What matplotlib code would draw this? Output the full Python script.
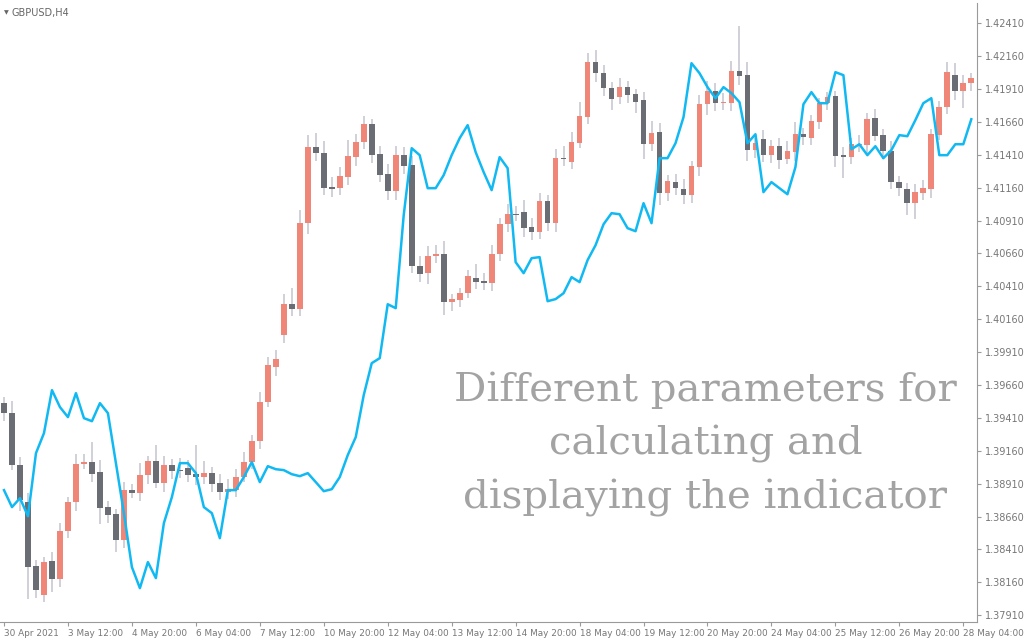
import matplotlib
matplotlib.use("Agg")
import matplotlib.pyplot as plt
import numpy as np

# GBPUSD H4 candles
opens = [1.39522, 1.39446, 1.39051, 1.38770, 1.38283, 1.38063, 1.38321, 1.38184, 1.38549, 1.38770,
         1.39058, 1.39074, 1.38998, 1.38732, 1.38678, 1.38481, 1.38861, 1.38838, 1.38975, 1.39081,
         1.38914, 1.39051, 1.39013, 1.39028, 1.38982, 1.38960, 1.38990, 1.38914, 1.38846, 1.38861,
         1.38960, 1.39074, 1.39233, 1.39530, 1.39796, 1.40039, 1.40274, 1.40236, 1.40890, 1.41468,
         1.41422, 1.41164, 1.41156, 1.41240, 1.41392, 1.41506, 1.41642, 1.41414, 1.41262, 1.41133,
         1.41407, 1.41331, 1.40563, 1.40510, 1.40639, 1.40654, 1.40290, 1.40305, 1.40358, 1.40472,
         1.40449, 1.40434, 1.40654, 1.40882, 1.40958, 1.40973, 1.40860, 1.40822, 1.41057, 1.40890,
         1.41384, 1.41354, 1.41498, 1.41696, 1.42114, 1.42030, 1.41916, 1.41848, 1.41924, 1.41870,
         1.41825, 1.41490, 1.41582, 1.41118, 1.41202, 1.41148, 1.41103, 1.41316, 1.41794, 1.41893,
         1.41802, 1.41802, 1.42045, 1.42015, 1.41445, 1.41528, 1.41407, 1.41475, 1.41376, 1.41430,
         1.41566, 1.41536, 1.41658, 1.41802, 1.41855, 1.41407, 1.41392, 1.41483, 1.41483, 1.41688,
         1.41559, 1.41437, 1.41202, 1.41148, 1.41042, 1.41118, 1.41148, 1.41559, 1.41772, 1.42015,
         1.41893, 1.41954]
closes = [1.39446, 1.39051, 1.38785, 1.38276, 1.38101, 1.38314, 1.38184, 1.38549, 1.38770, 1.39058,
          1.39074, 1.38982, 1.38724, 1.38671, 1.38481, 1.38861, 1.38838, 1.38975, 1.39081, 1.38914,
          1.39051, 1.39005, 1.39010, 1.38975, 1.38960, 1.38990, 1.38906, 1.38846, 1.38868, 1.38960,
          1.39074, 1.39233, 1.39530, 1.39811, 1.39856, 1.40274, 1.40236, 1.40890, 1.41468, 1.41422,
          1.41156, 1.41148, 1.41247, 1.41399, 1.41506, 1.41642, 1.41407, 1.41255, 1.41133, 1.41407,
          1.41323, 1.40563, 1.40502, 1.40639, 1.40654, 1.40290, 1.40313, 1.40358, 1.40487, 1.40442,
          1.40434, 1.40654, 1.40882, 1.40958, 1.40955, 1.40852, 1.40822, 1.41057, 1.40890, 1.41384,
          1.41376, 1.41506, 1.41703, 1.42114, 1.42030, 1.41916, 1.41832, 1.41924, 1.41863, 1.41810,
          1.41490, 1.41574, 1.41118, 1.41209, 1.41156, 1.41103, 1.41323, 1.41794, 1.41893, 1.41802,
          1.41810, 1.42045, 1.42007, 1.41445, 1.41498, 1.41407, 1.41475, 1.41369, 1.41437, 1.41566,
          1.41544, 1.41665, 1.41802, 1.41848, 1.41399, 1.41392, 1.41490, 1.41490, 1.41680, 1.41551,
          1.41437, 1.41202, 1.41156, 1.41042, 1.41126, 1.41156, 1.41566, 1.41772, 1.42038, 1.41893,
          1.41954, 1.41992]
# wick lengths above / below the body, in pips
wick_up = [5, 9, 6, 7, 5, 4, 7, 6, 4, 8, 6, 15, 9, 5, 4, 6, 5, 9, 4, 12,
           7, 5, 9, 6, 22, 9, 5, 7, 8, 6, 8, 5, 8, 6, 7, 8, 12, 10, 9, 11,
           9, 8, 7, 12, 6, 6, 4, 6, 8, 7, 6, 7, 8, 8, 7, 10, 4, 4, 5, 11,
           6, 7, 5, 8, 6, 9, 7, 6, 5, 7, 9, 8, 11, 7, 9, 6, 5, 7, 5, 4,
           6, 9, 7, 5, 6, 8, 4, 7, 8, 6, 7, 8, 34, 10, 4, 7, 5, 6, 8, 9,
           5, 5, 4, 4, 4, 6, 5, 7, 5, 7, 5, 8, 5, 5, 6, 6, 4, 5, 8, 9,
           6, 4]
wick_dn = [6, 4, 8, 24, 6, 5, 10, 6, 5, 7, 4, 6, 12, 6, 9, 6, 4, 6, 7, 4,
           7, 6, 6, 5, 6, 5, 6, 6, 5, 5, 4, 5, 6, 4, 7, 6, 5, 5, 8, 6,
           5, 6, 5, 6, 7, 5, 6, 5, 7, 7, 6, 5, 6, 8, 5, 10, 7, 5, 4, 5,
           5, 6, 5, 6, 5, 7, 6, 5, 6, 7, 5, 5, 4, 5, 7, 6, 8, 5, 6, 8,
           11, 5, 9, 6, 5, 7, 6, 7, 8, 6, 5, 6, 7, 8, 6, 5, 6, 7, 4, 7,
           6, 5, 5, 5, 8, 16, 5, 5, 6, 4, 6, 5, 6, 9, 12, 5, 7, 4, 5, 7,
           13, 6]
indicator = [1.38861, 1.38732, 1.38800, 1.38663, 1.39142, 1.39294, 1.39621, 1.39492, 1.39416, 1.39598,
             1.39408, 1.39385, 1.39522, 1.39446, 1.39066, 1.38686, 1.38276, 1.38116, 1.38314, 1.38192,
             1.38610, 1.38808, 1.39066, 1.39066, 1.38990, 1.38732, 1.38686, 1.38496, 1.38861, 1.38861,
             1.38960, 1.39074, 1.38922, 1.39043, 1.39020, 1.39013, 1.38982, 1.38967, 1.38990, 1.38922,
             1.38853, 1.38868, 1.38960, 1.39127, 1.39264, 1.39583, 1.39826, 1.39864, 1.40274, 1.40244,
             1.40951, 1.41460, 1.41407, 1.41156, 1.41156, 1.41255, 1.41407, 1.41536, 1.41635, 1.41430,
             1.41278, 1.41141, 1.41392, 1.41308, 1.40594, 1.40510, 1.40624, 1.40632, 1.40297, 1.40313,
             1.40358, 1.40480, 1.40442, 1.40609, 1.40723, 1.40882, 1.40966, 1.40958, 1.40852, 1.40829,
             1.41042, 1.40890, 1.41384, 1.41384, 1.41498, 1.41696, 1.42106, 1.42030, 1.41924, 1.41840,
             1.41924, 1.41878, 1.41810, 1.41498, 1.41566, 1.41126, 1.41202, 1.41156, 1.41110, 1.41316,
             1.41794, 1.41886, 1.41802, 1.41802, 1.42038, 1.42015, 1.41452, 1.41490, 1.41407, 1.41475,
             1.41384, 1.41445, 1.41559, 1.41551, 1.41673, 1.41802, 1.41840, 1.41407, 1.41407, 1.41490,
             1.41490, 1.41680]

tick_idx = [0, 8, 16, 24, 32, 40, 48, 56, 64, 72, 80, 88, 96, 104, 112, 120]
tick_labels = ["30 Apr 2021", "3 May 12:00", "4 May 20:00", "6 May 04:00", "7 May 12:00",
               "10 May 20:00", "12 May 04:00", "13 May 12:00", "14 May 20:00", "18 May 04:00",
               "19 May 12:00", "20 May 20:00", "24 May 04:00", "25 May 12:00", "26 May 20:00",
               "28 May 04:00"]
price_ticks = [1.37910, 1.38160, 1.38410, 1.38660, 1.38910, 1.39160, 1.39410, 1.39660, 1.39910,
               1.40160, 1.40410, 1.40660, 1.40910, 1.41160, 1.41410, 1.41660, 1.41910, 1.42160,
               1.42410]

BULL = "#ef8677"
BEAR = "#6a6d74"
WICK = "#c8c9d2"
LINE = "#11b9f2"
AXIS = "#9a9a9a"

fig = plt.figure(figsize=(10.24, 6.4), dpi=100)
ax = fig.add_axes([0.0, 0.028, 0.954, 0.967])

o = np.array(opens)
c = np.array(closes)
x = np.arange(len(o))
hi = np.maximum(o, c) + np.array(wick_up) * 1e-4
lo = np.minimum(o, c) - np.array(wick_dn) * 1e-4
up = c >= o

ax.vlines(x, lo, hi, color=WICK, linewidth=1.2, zorder=1)
body = np.abs(c - o)
body = np.where(body < 3e-5, 3e-5, body)
ax.bar(x, body, bottom=np.minimum(o, c), width=0.72,
       color=np.where(up, BULL, BEAR), zorder=2)
ax.plot(x, indicator, color=LINE, linewidth=1.8, zorder=3)

ax.set_xlim(-0.5, 121.7)
ax.set_ylim(1.37858, 1.42562)

ax.yaxis.tick_right()
ax.set_yticks(price_ticks)
ax.set_yticklabels([f"{p:.5f}" for p in price_ticks])
ax.tick_params(axis="y", labelsize=7, colors=AXIS, labelcolor="#777777",
               length=3, pad=3)
ax.set_xticks(tick_idx)
ax.set_xticklabels(tick_labels, ha="left")
ax.tick_params(axis="x", labelsize=6.4, colors=AXIS, labelcolor="#777777",
               length=3, pad=2)

for side in ["top", "left"]:
    ax.spines[side].set_visible(False)
for side in ["right", "bottom"]:
    ax.spines[side].set_color(AXIS)

ax.text(0.012, 0.992, "GBPUSD,H4", transform=ax.transAxes, fontsize=7,
        color="#666666", va="top", ha="left")
ax.text(0.004, 0.989, "\u25bc", transform=ax.transAxes, fontsize=4.5,
        color="#666666", va="top", ha="left")

ax.text(0.722, 0.287, "Different parameters for\ncalculating and\ndisplaying the indicator",
        transform=ax.transAxes, fontsize=29, color="#a3a3a3", ha="center",
        va="center", family="DejaVu Serif", linespacing=1.55)

fig.savefig("out.png", dpi=100)
